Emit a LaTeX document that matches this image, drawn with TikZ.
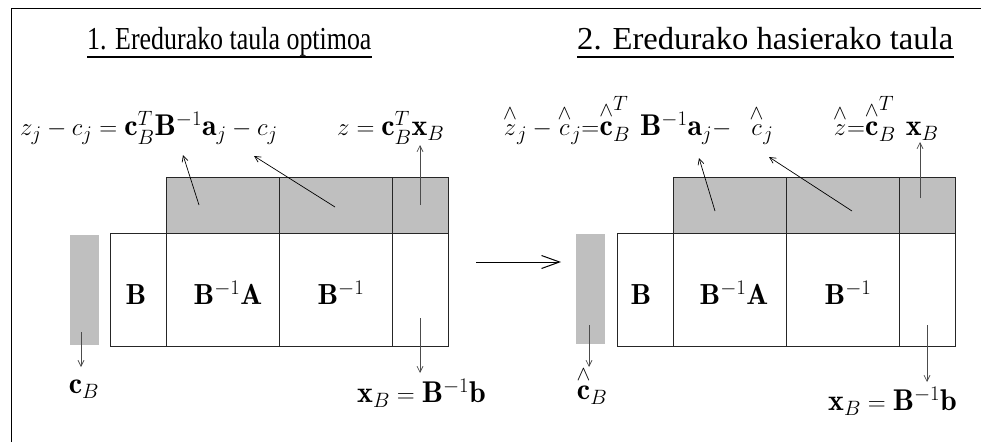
\documentclass[tikz,border=0pt]{standalone}
\usepackage{amsmath}
\usepackage{fontspec}
\newfontfamily\timesf{Liberation Serif}
\usetikzlibrary{arrows.meta,calc}
\newcommand\hh[1]{\overset{\wedge}{#1}}
\tikzset{
  mathlbl/.style={font=\fontsize{30}{36}\selectfont, inner sep=0pt, anchor=base},
  celltxt/.style={font=\fontsize{29}{35}\selectfont, inner sep=0pt, anchor=base},
  ttl/.style={font=\timesf\fontsize{32}{38}\selectfont, inner sep=0pt, anchor=base west},
  uline/.style={line width=1.8pt},
  grayfill/.style={fill=black!25},
  cellline/.style={line width=0.8pt, draw=black!85},
  arr/.style={line width=0.7pt, -{Straight Barb[length=6pt,width=6pt]}},
  bigarr/.style={line width=1pt, -{Straight Barb[length=18pt,width=13pt]}},
}
\begin{document}
\begin{tikzpicture}[x=1pt,y=-1pt]
\useasboundingbox (0,0) rectangle (981,442);
% frame
\draw[line width=1pt] (11,442) -- (11,8) -- (981,8);
% titles
\node[ttl,xscale=0.81] (t1) at (87,49) {1. Eredurako taula optimoa};
\node[ttl,xscale=1.02] (t2) at (577,49) {2. Eredurako hasierako taula};
\draw[uline] ($(t1.base west)+(0,8)$) -- ($(t1.base east)+(0,8)$);
\draw[uline] ($(t2.base west)+(0,8)$) -- ($(t2.base east)+(0,8)$);
% ---------- left tableau ----------
\fill[grayfill] (166,177) rectangle (448,233);
\fill[grayfill] (70,235) rectangle (99,345);
\draw[cellline] (166,233) -- (166,177) -- (448,177) -- (448,346) -- (110,346) -- (110,233) -- (448,233);
\draw[cellline] (166,177) -- (166,346) (279,177) -- (279,346) (392,177) -- (392,346);
\node[celltxt] (lB) at (136,304) {$\mathbf{B}$};
\node[celltxt] (lBA) at (228,304) {$\mathbf{B}^{-1}\mathbf{A}$};
\node[celltxt] (lBi) at (341,304) {$\mathbf{B}^{-1}$};
\node[mathlbl,anchor=base west] (lz1) at (20,135) {$z_j-c_j=\mathbf{c}_B^T\mathbf{B}^{-1}\mathbf{a}_j-c_j$};
\node[mathlbl,anchor=base west] (lz2) at (337,135) {$z=\mathbf{c}_B^T\mathbf{x}_B$};
\node[mathlbl] (lcb) at (84,393) {$\mathbf{c}_B$};
\node[mathlbl,anchor=base west] (lxb) at (357,402) {$\mathbf{x}_B=\mathbf{B}^{-1}\mathbf{b}$};
\coordinate (la1t) at (199,205); \coordinate (la1h) at (183,155);
\coordinate (la2t) at (335,207); \coordinate (la2h) at (254,156);
\coordinate (la3t) at (420,205); \coordinate (la3h) at (420,145);
\coordinate (la4t) at (81,332);  \coordinate (la4h) at (81,367);
\coordinate (la5t) at (420,318); \coordinate (la5h) at (420,373);
\draw[arr] (la1t) -- (la1h);
\draw[arr] (la2t) -- (la2h);
\draw[arr,black!70] (la3t) -- (la3h);
\draw[arr,black!70] (la4t) -- (la4h);
\draw[arr,black!70] (la5t) -- (la5h);
% big arrow
\coordinate (ba1) at (476,262); \coordinate (ba2) at (561,262);
\draw[bigarr] (ba1) -- (ba2);
% ---------- right tableau ----------
\fill[grayfill] (673,177) rectangle (955,233);
\fill[grayfill] (576,234) rectangle (605,344);
\draw[cellline] (673,233) -- (673,177) -- (955,177) -- (955,346) -- (617,346) -- (617,233) -- (955,233);
\draw[cellline] (673,177) -- (673,346) (786,177) -- (786,346) (899,177) -- (899,346);
\node[celltxt] (rB) at (641,304) {$\mathbf{B}$};
\node[celltxt] (rBA) at (734,304) {$\mathbf{B}^{-1}\mathbf{A}$};
\node[celltxt] (rBi) at (848,304) {$\mathbf{B}^{-1}$};
\node[mathlbl,anchor=base west] (rz1) at (503,135) {$\hh{z}_j-\hh{c}_j{=}\hh{\mathbf{c}}_B^T\hspace{10pt}\mathbf{B}^{-1}\mathbf{a}_j{-}\hspace{18pt}\hh{c}_j$};
\node[mathlbl,anchor=base west] (rz2) at (833,135) {$\hh{z}{=}\hh{\mathbf{c}}_B^T\hspace{10pt}\mathbf{x}_B$};
\node[mathlbl] (rcb) at (592,399) {$\hh{\mathbf{c}}_B$};
\node[mathlbl,anchor=base west] (rxb) at (828,410) {$\mathbf{x}_B=\mathbf{B}^{-1}\mathbf{b}$};
\coordinate (ra1t) at (715,211); \coordinate (ra1h) at (699,158);
\coordinate (ra2t) at (852,211); \coordinate (ra2h) at (769,157);
\coordinate (ra3t) at (920,198); \coordinate (ra3h) at (920,142);
\coordinate (ra4t) at (589,325); \coordinate (ra4h) at (589,367);
\coordinate (ra5t) at (927,325); \coordinate (ra5h) at (927,382);
\draw[arr] (ra1t) -- (ra1h);
\draw[arr] (ra2t) -- (ra2h);
\draw[arr,black!70] (ra3t) -- (ra3h);
\draw[arr,black!70] (ra4t) -- (ra4h);
\draw[arr,black!70] (ra5t) -- (ra5h);
\end{tikzpicture}
\end{document}
